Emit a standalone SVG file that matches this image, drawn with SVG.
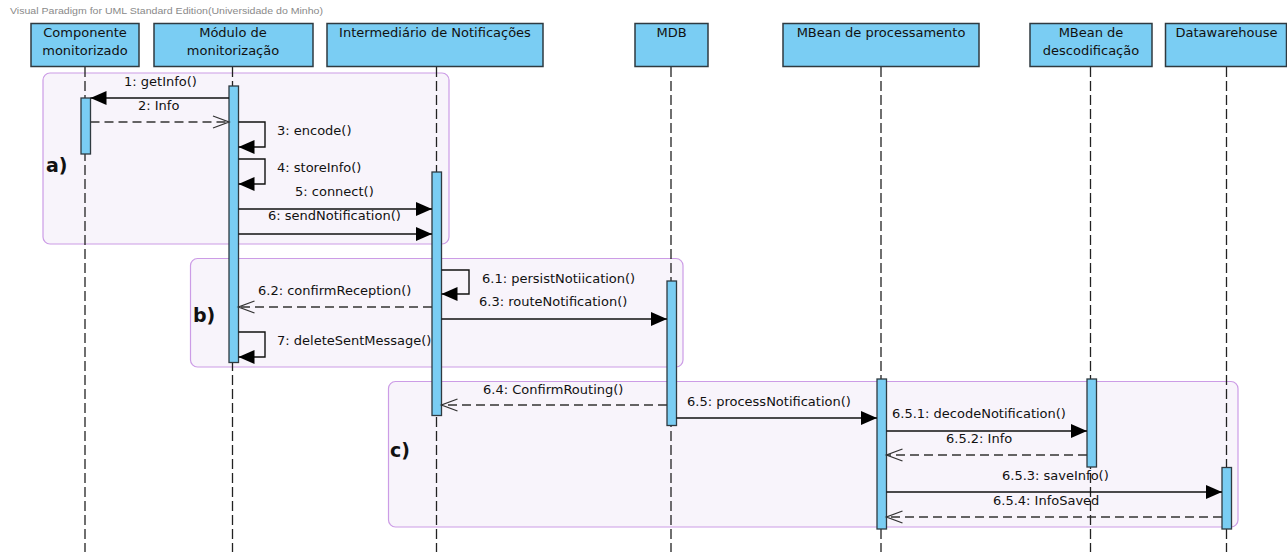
<svg xmlns="http://www.w3.org/2000/svg" width="1287" height="552" viewBox="0 0 1287 552">
  <style>
    .hdr { fill: #7acdf3; stroke: #2f3a40; stroke-width: 1.5; }
    .act { fill: #7acdf3; stroke: #2f3a40; stroke-width: 1.3; }
    .life { stroke: #222; stroke-width: 1.3; stroke-dasharray: 10 4; fill: none; }
    .frag { fill: #f8f4fb; stroke: #cc9ce6; stroke-width: 1.2; }
    .msg { stroke: #111; stroke-width: 1.4; fill: none; marker-end: url(#filled); }
    .ret { stroke: #333; stroke-width: 1.4; fill: none; stroke-dasharray: 9 5; marker-end: url(#open); }
    .name { font-family: "DejaVu Sans", sans-serif; font-size: 13px; fill: #111; text-anchor: middle; }
    .lbl { font-family: "DejaVu Sans", sans-serif; font-size: 13px; fill: #111; }
    .tag { font-family: "DejaVu Sans", sans-serif; font-size: 19px; font-weight: bold; fill: #111; }
    .title { font-family: "Liberation Sans", Arial, sans-serif; font-size: 9.5px; fill: #8a8a8a; }
  </style>
  <defs>
    <marker id="filled" markerUnits="userSpaceOnUse" markerWidth="16" markerHeight="14" refX="16" refY="7" orient="auto" overflow="visible">
      <path d="M0,0 L16,7 L0,14 Z" fill="#000"/>
    </marker>
    <marker id="open" markerUnits="userSpaceOnUse" markerWidth="16" markerHeight="12" refX="16" refY="6" orient="auto" overflow="visible">
      <path d="M0,0 L16,6 L0,12" fill="none" stroke="#333" stroke-width="1.3"/>
    </marker>
  </defs>

  <text class="title" x="10" y="14" textLength="313" lengthAdjust="spacingAndGlyphs">Visual Paradigm for UML Standard Edition(Universidade do Minho)</text>

  <!-- interaction fragments -->
  <g id="fragments">
    <rect class="frag" x="43" y="73" width="406" height="171" rx="7"/>
    <rect class="frag" x="190.5" y="258.5" width="492.5" height="108.5" rx="7"/>
    <rect class="frag" x="388.5" y="381.5" width="849.5" height="145.5" rx="7"/>
    <text class="tag" x="46" y="172">a)</text>
    <text class="tag" x="193" y="322">b)</text>
    <text class="tag" x="390" y="457">c)</text>
  </g>

  <!-- lifelines -->
  <g id="lifelines">
    <line class="life" x1="85" y1="67" x2="85" y2="552"/>
    <line class="life" x1="232.5" y1="67" x2="232.5" y2="552"/>
    <line class="life" x1="436.5" y1="67" x2="436.5" y2="552"/>
    <line class="life" x1="671" y1="67" x2="671" y2="552"/>
    <line class="life" x1="881" y1="67" x2="881" y2="552"/>
    <line class="life" x1="1090.5" y1="67" x2="1090.5" y2="552"/>
    <line class="life" x1="1226.5" y1="67" x2="1226.5" y2="552"/>
  </g>

  <g id="componente">
    <rect class="hdr" x="31" y="23.5" width="108" height="43"/>
    <text class="name" x="85" y="37">Componente</text>
    <text class="name" x="85" y="55">monitorizado</text>
    <rect class="act" x="81" y="98" width="9.5" height="56"/>
  </g>

  <g id="modulo">
    <rect class="hdr" x="154" y="23.5" width="159" height="43"/>
    <text class="name" x="233" y="37">Módulo de</text>
    <text class="name" x="233" y="55">monitorização</text>
    <rect class="act" x="229" y="86" width="9.5" height="276.5"/>
  </g>

  <g id="intermediario">
    <rect class="hdr" x="327" y="23.5" width="216" height="43"/>
    <text class="name" x="435" y="37">Intermediário de Notificações</text>
    <rect class="act" x="432" y="172" width="9.5" height="243.5"/>
  </g>

  <g id="mdb">
    <rect class="hdr" x="635" y="23.5" width="73" height="43"/>
    <text class="name" x="671.5" y="37">MDB</text>
    <rect class="act" x="667" y="281" width="9.5" height="144.5"/>
  </g>

  <g id="mbean-processamento">
    <rect class="hdr" x="783" y="23.5" width="196" height="43"/>
    <text class="name" x="881" y="37">MBean de processamento</text>
    <rect class="act" x="877" y="379" width="9.5" height="150"/>
  </g>

  <g id="mbean-descodificacao">
    <rect class="hdr" x="1030" y="23.5" width="122" height="43"/>
    <text class="name" x="1091" y="37">MBean de</text>
    <text class="name" x="1091" y="55">descodificação</text>
    <rect class="act" x="1087" y="379" width="9.5" height="88"/>
  </g>

  <g id="datawarehouse">
    <rect class="hdr" x="1165.5" y="23.5" width="121" height="43"/>
    <text class="name" x="1226.5" y="37">Datawarehouse</text>
    <rect class="act" x="1222" y="467.5" width="9.5" height="61.5"/>
  </g>

  <!-- messages -->
  <g id="connectors">
    <path class="msg" d="M229,98 H90.5"/>
    <path class="ret" d="M90.5,122 H229"/>
    <path class="msg" d="M238.5,122 H265 V147 H238.5"/>
    <path class="msg" d="M238.5,159 H265 V184 H238.5"/>
    <path class="msg" d="M238.5,209 H432"/>
    <path class="msg" d="M238.5,234 H432"/>

    <path class="msg" d="M441.5,270 H469 V294 H441.5"/>
    <path class="ret" d="M432,307 H238.5"/>
    <path class="msg" d="M441.5,319 H667"/>
    <path class="msg" d="M238.5,332 H265 V357 H238.5"/>

    <path class="ret" d="M667,405 H441.5"/>
    <path class="msg" d="M676.5,418 H877"/>
    <path class="msg" d="M886.5,431 H1087"/>
    <path class="ret" d="M1087,455 H886.5"/>
    <path class="msg" d="M886.5,492 H1222"/>
    <path class="ret" d="M1222,517 H886.5"/>
  </g>

  <g id="message-labels">
    <text class="lbl" x="124" y="86">1: getInfo()</text>
    <text class="lbl" x="138" y="110">2: Info</text>
    <text class="lbl" x="277" y="135">3: encode()</text>
    <text class="lbl" x="277" y="172">4: storeInfo()</text>
    <text class="lbl" x="295" y="196">5: connect()</text>
    <text class="lbl" x="268" y="220">6: sendNotification()</text>
    <text class="lbl" x="482" y="283">6.1: persistNotiication()</text>
    <text class="lbl" x="258" y="295">6.2: confirmReception()</text>
    <text class="lbl" x="479" y="306">6.3: routeNotification()</text>
    <text class="lbl" x="277" y="345">7: deleteSentMessage()</text>
    <text class="lbl" x="483" y="394">6.4: ConfirmRouting()</text>
    <text class="lbl" x="687" y="406">6.5: processNotification()</text>
    <text class="lbl" x="892" y="418">6.5.1: decodeNotification()</text>
    <text class="lbl" x="946" y="443">6.5.2: Info</text>
    <text class="lbl" x="1002" y="480">6.5.3: saveInfo()</text>
    <text class="lbl" x="993" y="505">6.5.4: InfoSaved</text>
  </g>
</svg>
